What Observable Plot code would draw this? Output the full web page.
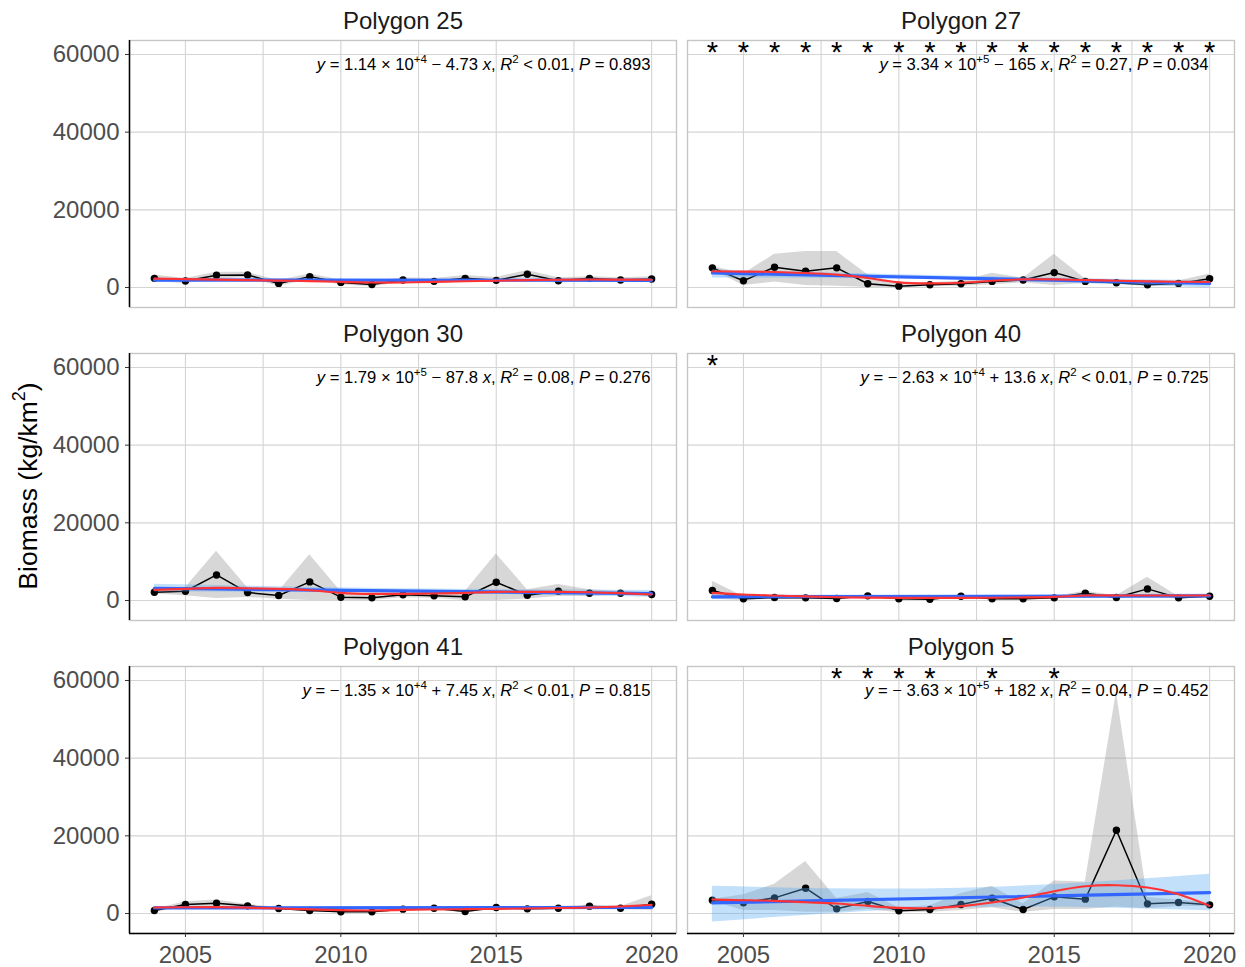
<!DOCTYPE html>
<html><head><meta charset="utf-8">
<script src="https://cdn.jsdelivr.net/npm/d3@7"></script>
<script src="https://cdn.jsdelivr.net/npm/@observablehq/plot@0.6"></script>
<style>body{margin:0;background:#fff;font-family:"Liberation Sans",Arial,Helvetica,sans-serif}</style>
</head><body><div id="chart"></div>
<script>
// ---------- data ----------
const years = [2004,2005,2006,2007,2008,2009,2010,2011,2012,2013,2014,2015,2016,2017,2018,2019,2020];
const panelNames = ["Polygon 25","Polygon 27","Polygon 30","Polygon 40","Polygon 41","Polygon 5"];

const meanP25 = [2360,1660,3150,3240,1050,2800,1310,790,1930,1580,2360,1840,3410,1750,2360,1930,2190];
const hiP25   = [3240,2300,3940,3900,1800,3500,1900,1600,2500,2300,3100,2600,4380,2500,2800,2500,2800];
const loP25   = [1500,1000,2200,2500,300,2000,700,200,1300,900,1500,1200,2500,1000,1800,1300,1500];
const smoothP25 = [2280,2150,2030,1900,1780,1650,1450,1280,1300,1450,1600,1750,1900,2000,2050,2030,2000];

const meanP27 = [5060,1740,5230,4190,5060,960,350,700,960,1570,1920,3840,1570,1220,700,1050,2270];
const hiP27   = [5500,3500,8550,9240,9240,3300,1000,1200,1600,3700,2400,8550,2200,1800,1200,1700,3490];
const loP27   = [4600,500,1400,500,300,0,0,200,300,700,1200,500,1000,800,300,500,1000];
const smoothP27 = [4190,4100,4010,3750,3310,2440,1310,1050,1220,1740,2090,2090,1920,1740,1570,1480,1400];

const meanP30 = [2140,2390,6580,2050,1280,4790,855,680,1450,1200,940,4700,1370,2390,1880,1880,1540];
const hiP30   = [2600,3300,12650,3300,2300,11800,2300,1500,2000,2000,2300,11970,2800,4100,2800,2300,2000];
const loP30   = [1700,1200,500,800,300,0,0,0,700,600,0,0,400,1000,1000,1400,1000];
const smoothP30 = [2740,3000,3250,3150,2990,2650,1970,1710,1710,1800,1970,2220,2220,2220,2140,1900,1540];

const meanP40 = [2565,430,770,680,510,1200,430,340,1110,430,430,680,1880,770,2990,680,1110];
const hiP40   = [4960,1000,1100,1000,800,1500,700,700,1400,700,700,1000,2400,1200,5985,1000,1300];
const loP40   = [300,0,400,300,200,800,100,0,800,100,100,300,1400,300,1000,300,900];
const smoothP40 = [1970,1540,1280,1050,855,750,680,680,680,700,800,940,1280,1300,1280,1280,1280];

const meanP41 = [770,2320,2660,1970,1290,770,430,430,1115,1370,515,1540,1200,1370,1890,1370,2400];
const hiP41   = [1100,3000,3500,2300,1600,1100,700,700,1400,1700,800,1800,1500,1700,2200,1800,4550];
const loP41   = [400,1500,1800,1600,1000,400,200,200,800,1000,200,1200,900,1000,1500,1000,800];
const smoothP41 = [1540,1600,1630,1500,1290,1050,860,770,940,1030,1115,1200,1290,1400,1540,1800,2230];

const meanP5 = [3430,2740,4030,6510,1200,3090,690,1030,2310,3940,1030,4290,3690,21430,2490,2830,2230];
const hiP5   = [3600,4800,7540,13370,3860,5400,1500,2000,5140,7030,2500,8400,8140,57000,4110,3500,2700];
const loP5   = [3200,800,800,300,300,1000,200,300,800,1500,300,1000,1000,1700,1200,1800,1800];
const smoothP5 = [3600,3430,3260,2910,2570,1970,1460,1370,1890,2830,4110,5740,7030,7280,6680,4970,1970];

// linear fit (blue): values at the first and last year; CI band at three years
const lmYears = [2004, 2020];
const lmFit = [[1921,1845],[3750,1050],[3150,1750],[954,1172],[1430,1549],[2740,5400]];
const bandYears = [2004, 2012, 2020];
const lmLo = [[1450,1600,1400],[2450,1950,-150],[2200,1900,850],[400,800,600],[1030,1240,1150],[-2200,1500,690]];
const lmHi = [[2400,2150,2300],[4600,2900,1750],[4200,3000,2600],[1500,1300,1700],[1830,1740,1950],[7000,6500,10110]];

// significance stars
const starLevel = 60000;
const starYears = [[], years, [], [2004], [], [2008,2009,2010,2011,2013,2015]];

const eqLabels = [
  "y = 1.14 × 10^{+4} − 4.73 x, R^{2} < 0.01, P = 0.893",
  "y = 3.34 × 10^{+5} − 165 x, R^{2} = 0.27, P = 0.034",
  "y = 1.79 × 10^{+5} − 87.8 x, R^{2} = 0.08, P = 0.276",
  "y = − 2.63 × 10^{+4} + 13.6 x, R^{2} < 0.01, P = 0.725",
  "y = − 1.35 × 10^{+4} + 7.45 x, R^{2} < 0.01, P = 0.815",
  "y = − 3.63 × 10^{+5} + 182 x, R^{2} = 0.04, P = 0.452"
];

const xTicks = [2005, 2010, 2015, 2020];
const xGrid = [2005, 2007.5, 2010, 2012.5, 2015, 2017.5, 2020];
const yTicks = [0, 20000, 40000, 60000];

// ---------- tables ----------
const means = [meanP25, meanP27, meanP30, meanP40, meanP41, meanP5];
const his = [hiP25, hiP27, hiP30, hiP40, hiP41, hiP5];
const los = [loP25, loP27, loP30, loP40, loP41, loP5];
const smooths = [smoothP25, smoothP27, smoothP30, smoothP40, smoothP41, smoothP5];

const panels = panelNames.map((name, i) => ({name, col: i % 2, row: Math.floor(i / 2), eq: eqLabels[i]}));
const rows = [], lmRows = [], bandRows = [], starRows = [];
panels.forEach((p, i) => {
  years.forEach((yr, j) => rows.push({panel: p.name, col: p.col, row: p.row, year: yr,
    mean: means[i][j], lo: los[i][j], hi: his[i][j], smooth: smooths[i][j]}));
  lmYears.forEach((yr, j) => lmRows.push({panel: p.name, col: p.col, row: p.row, year: yr, fit: lmFit[i][j]}));
  bandYears.forEach((yr, j) => bandRows.push({panel: p.name, col: p.col, row: p.row, year: yr, lo: lmLo[i][j], hi: lmHi[i][j]}));
  starYears[i].forEach(yr => starRows.push({panel: p.name, col: p.col, row: p.row, year: yr, level: starLevel}));
});

const F = {fx: "col", fy: "row"};
const font = "Liberation Sans, Arial, Helvetica, sans-serif";

const svg = Plot.plot({
  width: 1245, height: 967,
  marginLeft: 129, marginRight: 10, marginTop: 39, marginBottom: 34,
  style: {fontFamily: font, background: "#fff"},
  fx: {axis: null, domain: [0, 1], padding: 11 / 558.5},
  fy: {axis: null, domain: [0, 1, 2], padding: 46.5 / 313.5},
  x: {domain: [2003.2, 2020.8], label: null},
  y: {domain: [-5150, 63600], label: null},
  marks: [
    Plot.gridX(xGrid, {stroke: "#d4d4d4", strokeOpacity: 1, strokeWidth: 1.1}),
    Plot.gridY(yTicks, {stroke: "#d4d4d4", strokeOpacity: 1, strokeWidth: 1.1}),
    Plot.frame({stroke: "#c6c6c6", strokeWidth: 1.4}),
    Plot.areaY(rows, {...F, x: "year", y1: "lo", y2: "hi", z: "panel", fill: "#9a9a9a", fillOpacity: 0.4}),
    Plot.line(rows, {...F, x: "year", y: "mean", z: "panel", stroke: "#000", strokeWidth: 1.5}),
    Plot.dot(rows, {...F, x: "year", y: "mean", r: 3.7, fill: "#000"}),
    Plot.areaY(bandRows, {...F, x: "year", y1: "lo", y2: "hi", z: "panel", fill: "#5aa9f2", fillOpacity: 0.36, curve: "natural"}),
    Plot.line(lmRows, {...F, x: "year", y: "fit", z: "panel", stroke: "#3366FF", strokeWidth: 3.2}),
    Plot.line(rows, {...F, x: "year", y: "smooth", z: "panel", stroke: "#FF3333", strokeWidth: 2.1, curve: "natural"}),
    Plot.text(starRows, {...F, x: "year", y: "level", text: () => "*", fontSize: 29, dy: -2, fill: "#000", lineAnchor: "middle"}),
    Plot.text(panels, {...F, text: "name", frameAnchor: "top", dy: -19, lineAnchor: "middle", fontSize: 24, fill: "#1a1a1a"}),
    Plot.text(panels, {...F, text: "eq", frameAnchor: "top-right", textAnchor: "end", dx: -26, dy: 24, lineAnchor: "middle", fontSize: 16.6, fill: "#000"}),
    Plot.ruleX([2003.2], {stroke: "#000", strokeWidth: 1.5, facetAnchor: "left"}),
    Plot.ruleY([-5150], {stroke: "#000", strokeWidth: 1.5, facetAnchor: "bottom"}),
    Plot.axisX(xTicks, {tickFormat: "d", fontSize: 24, tickSize: 4, tickPadding: 8, stroke: "#333", fill: "#4d4d4d", label: null, facetAnchor: "bottom"}),
    Plot.axisY(yTicks, {tickFormat: "d", fontSize: 24, tickSize: 4, tickPadding: 6, stroke: "#333", fill: "#4d4d4d", label: null, facetAnchor: "left"})
  ]
});

// rich text for the regression labels (italic variables, superscripts)
d3.select(svg).selectAll("text").each(function () {
  const t = this.textContent;
  if (!t.includes("^{")) return;
  const el = d3.select(this);
  el.text(null);
  const re = /\^\{([^}]*)\}|\b([xyRP])\b/g;
  let last = 0, m, shift = 0;
  const add = (s, attrs) => {
    const ts = el.append("tspan").text(s);
    if (shift) { ts.attr("dy", shift); shift = 0; }
    if (attrs) for (const k in attrs) ts.attr(k, attrs[k]);
    return ts;
  };
  while ((m = re.exec(t))) {
    if (m.index > last) add(t.slice(last, m.index));
    if (m[1] !== undefined) { add(m[1], {"font-size": 11.5, dy: -7}); shift = 7; }
    else add(m[2], {"font-style": "italic"});
    last = re.lastIndex;
  }
  if (last < t.length) add(t.slice(last));
});

// y axis title
const yt = d3.select(svg).append("text")
  .attr("transform", "translate(30,486) rotate(-90)")
  .attr("text-anchor", "middle").attr("dominant-baseline", "middle")
  .attr("font-size", 26.5).attr("fill", "#000");
yt.append("tspan").text("Biomass (kg/km");
yt.append("tspan").attr("font-size", 18).attr("dy", -10).text("2");
yt.append("tspan").attr("dy", 10).text(")");

document.getElementById("chart").appendChild(svg);
</script></body></html>
